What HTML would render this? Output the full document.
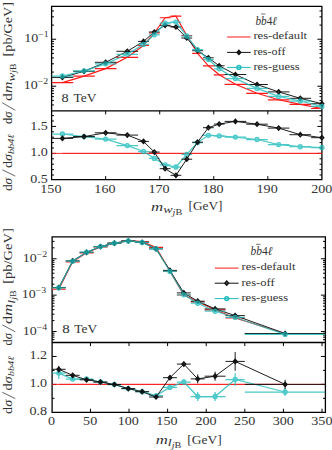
<!DOCTYPE html>
<html><head><meta charset="utf-8"><style>
html,body{margin:0;padding:0;background:#fff;}
body{width:332px;height:450px;overflow:hidden;}
svg{display:block;}
</style></head><body>
<svg width="332" height="450" viewBox="0 0 332 450"><rect width="332" height="450" fill="#fff"/><defs><clipPath id="tm"><rect x="51.6" y="6.4" width="270.30" height="104.40"/></clipPath><clipPath id="bm"><rect x="52.1" y="236.85" width="273.30" height="105.65"/></clipPath><clipPath id="tr"><rect x="51.6" y="110.8" width="270.30" height="68.90"/></clipPath><clipPath id="br"><rect x="52.1" y="342.5" width="273.30" height="69.80"/></clipPath></defs><path d="M51.6,6.4H321.9V179.7H51.6ZM51.6,110.8H321.9" fill="none" stroke="#000" stroke-width="1.3"/><path d="M105.66,110.8v3.6M105.66,179.7v-3.6M159.72,110.8v3.6M159.72,179.7v-3.6M213.78,110.8v3.6M213.78,179.7v-3.6M267.84,110.8v3.6M267.84,179.7v-3.6M51.6,86.23h4.5M321.9,86.23h-4.5M51.6,39.24h4.5M321.9,39.24h-4.5M51.6,153.40h4.5M321.9,153.40h-4.5M51.6,126.41h4.5M321.9,126.41h-4.5M51.6,104.93h2.4M321.9,104.93h-2.4M51.6,100.38h2.4M321.9,100.38h-2.4M51.6,96.66h2.4M321.9,96.66h-2.4M51.6,93.51h2.4M321.9,93.51h-2.4M51.6,90.78h2.4M321.9,90.78h-2.4M51.6,88.38h2.4M321.9,88.38h-2.4M51.6,72.09h2.4M321.9,72.09h-2.4M51.6,63.81h2.4M321.9,63.81h-2.4M51.6,57.94h2.4M321.9,57.94h-2.4M51.6,53.39h2.4M321.9,53.39h-2.4M51.6,49.67h2.4M321.9,49.67h-2.4M51.6,46.52h2.4M321.9,46.52h-2.4M51.6,43.80h2.4M321.9,43.80h-2.4M51.6,41.39h2.4M321.9,41.39h-2.4M51.6,25.10h2.4M321.9,25.10h-2.4M51.6,16.82h2.4M321.9,16.82h-2.4M51.6,10.95h2.4M321.9,10.95h-2.4M51.6,175.00h2.4M321.9,175.00h-2.4M51.6,169.60h2.4M321.9,169.60h-2.4M51.6,164.20h2.4M321.9,164.20h-2.4M51.6,158.80h2.4M321.9,158.80h-2.4M51.6,148.00h2.4M321.9,148.00h-2.4M51.6,142.60h2.4M321.9,142.60h-2.4M51.6,137.20h2.4M321.9,137.20h-2.4M51.6,131.80h2.4M321.9,131.80h-2.4M51.6,121.01h2.4M321.9,121.01h-2.4M51.6,115.61h2.4M321.9,115.61h-2.4" stroke="#000" stroke-width="1" fill="none"/><path d="M52.1,236.85H325.4V412.3H52.1ZM52.1,342.5H325.4" fill="none" stroke="#000" stroke-width="1.3"/><path d="M90.44,342.5v3.6M90.44,412.3v-3.6M129.03,342.5v3.6M129.03,412.3v-3.6M167.62,342.5v3.6M167.62,412.3v-3.6M206.22,342.5v3.6M206.22,412.3v-3.6M244.81,342.5v3.6M244.81,412.3v-3.6M283.41,342.5v3.6M283.41,412.3v-3.6M322.00,342.5v3.6M322.00,412.3v-3.6M52.1,331.54h4.5M325.4,331.54h-4.5M52.1,295.15h4.5M325.4,295.15h-4.5M52.1,258.76h4.5M325.4,258.76h-4.5M52.1,384.38h4.5M325.4,384.38h-4.5M52.1,356.46h4.5M325.4,356.46h-4.5M52.1,339.62h2.4M325.4,339.62h-2.4M52.1,337.18h2.4M325.4,337.18h-2.4M52.1,335.07h2.4M325.4,335.07h-2.4M52.1,333.21h2.4M325.4,333.21h-2.4M52.1,320.59h2.4M325.4,320.59h-2.4M52.1,314.18h2.4M325.4,314.18h-2.4M52.1,309.63h2.4M325.4,309.63h-2.4M52.1,306.11h2.4M325.4,306.11h-2.4M52.1,303.23h2.4M325.4,303.23h-2.4M52.1,300.79h2.4M325.4,300.79h-2.4M52.1,298.68h2.4M325.4,298.68h-2.4M52.1,296.82h2.4M325.4,296.82h-2.4M52.1,284.20h2.4M325.4,284.20h-2.4M52.1,277.79h2.4M325.4,277.79h-2.4M52.1,273.24h2.4M325.4,273.24h-2.4M52.1,269.72h2.4M325.4,269.72h-2.4M52.1,266.83h2.4M325.4,266.83h-2.4M52.1,264.40h2.4M325.4,264.40h-2.4M52.1,262.29h2.4M325.4,262.29h-2.4M52.1,260.43h2.4M325.4,260.43h-2.4M52.1,247.81h2.4M325.4,247.81h-2.4M52.1,241.40h2.4M325.4,241.40h-2.4M52.1,398.34h2.4M325.4,398.34h-2.4M52.1,370.42h2.4M325.4,370.42h-2.4" stroke="#000" stroke-width="1" fill="none"/><g><g clip-path="url(#tm)"><polyline points="62.41,82.60 84.04,76.10 105.66,68.60 127.28,57.30 143.50,45.50 154.31,33.00 165.13,17.70 175.94,16.10 186.75,35.50 197.56,53.30 208.37,65.80 219.19,74.80 235.40,84.30 257.03,93.30 278.65,99.80 300.28,104.40 321.90,108.50" fill="none" stroke="#ff1a1a" stroke-width="1.15"/><path d="M51.60,82.60H73.22M73.22,76.10H94.85M94.85,68.60H116.47M116.47,57.30H138.10M138.10,45.50H148.91M148.91,33.00H159.72M159.72,17.70H170.53M170.53,16.10H181.34M181.34,35.50H192.16M192.16,53.30H202.97M202.97,65.80H213.78M213.78,74.80H224.59M224.59,84.30H246.22M246.22,93.30H267.84M267.84,99.80H289.46M289.46,104.40H311.09M311.09,108.50H332.71" stroke="#ff1a1a" stroke-width="1.15" fill="none"/></g></g><g><g clip-path="url(#tm)"><polyline points="62.41,77.40 84.04,71.30 105.66,62.30 127.28,51.30 143.50,41.40 154.31,32.00 165.13,25.30 175.94,27.00 186.75,38.00 197.56,50.70 208.37,57.80 219.19,65.80 235.40,74.50 257.03,84.50 278.65,91.90 300.28,98.30 321.90,103.70" fill="none" stroke="#111" stroke-width="0.95"/><path d="M51.60,77.40H73.22M73.22,71.30H94.85M94.85,62.30H116.47M116.47,51.30H138.10M138.10,41.40H148.91M148.91,32.00H159.72M159.72,25.30H170.53M170.53,27.00H181.34M181.34,38.00H192.16M192.16,50.70H202.97M202.97,57.80H213.78M213.78,65.80H224.59M224.59,74.50H246.22M246.22,84.50H267.84M267.84,91.90H289.46M289.46,98.30H311.09M311.09,103.70H332.71" stroke="#111" stroke-width="0.95" fill="none"/></g><path d="M62.41,75.25L64.35,77.40L62.41,79.55L60.48,77.40Z" fill="#111" fill-opacity="0.35" stroke="#111" stroke-width="1.3"/><path d="M84.04,69.15L85.97,71.30L84.04,73.45L82.10,71.30Z" fill="#111" fill-opacity="0.35" stroke="#111" stroke-width="1.3"/><path d="M105.66,60.15L107.59,62.30L105.66,64.45L103.72,62.30Z" fill="#111" fill-opacity="0.35" stroke="#111" stroke-width="1.3"/><path d="M127.28,49.15L129.22,51.30L127.28,53.45L125.35,51.30Z" fill="#111" fill-opacity="0.35" stroke="#111" stroke-width="1.3"/><path d="M143.50,39.25L145.44,41.40L143.50,43.55L141.57,41.40Z" fill="#111" fill-opacity="0.35" stroke="#111" stroke-width="1.3"/><path d="M154.31,29.85L156.25,32.00L154.31,34.15L152.38,32.00Z" fill="#111" fill-opacity="0.35" stroke="#111" stroke-width="1.3"/><path d="M165.13,23.15L167.06,25.30L165.13,27.45L163.19,25.30Z" fill="#111" fill-opacity="0.35" stroke="#111" stroke-width="1.3"/><path d="M175.94,24.85L177.87,27.00L175.94,29.15L174.00,27.00Z" fill="#111" fill-opacity="0.35" stroke="#111" stroke-width="1.3"/><path d="M186.75,35.85L188.68,38.00L186.75,40.15L184.81,38.00Z" fill="#111" fill-opacity="0.35" stroke="#111" stroke-width="1.3"/><path d="M197.56,48.55L199.50,50.70L197.56,52.85L195.63,50.70Z" fill="#111" fill-opacity="0.35" stroke="#111" stroke-width="1.3"/><path d="M208.37,55.65L210.31,57.80L208.37,59.95L206.44,57.80Z" fill="#111" fill-opacity="0.35" stroke="#111" stroke-width="1.3"/><path d="M219.19,63.65L221.12,65.80L219.19,67.95L217.25,65.80Z" fill="#111" fill-opacity="0.35" stroke="#111" stroke-width="1.3"/><path d="M235.40,72.35L237.34,74.50L235.40,76.65L233.47,74.50Z" fill="#111" fill-opacity="0.35" stroke="#111" stroke-width="1.3"/><path d="M257.03,82.35L258.96,84.50L257.03,86.65L255.09,84.50Z" fill="#111" fill-opacity="0.35" stroke="#111" stroke-width="1.3"/><path d="M278.65,89.75L280.59,91.90L278.65,94.05L276.72,91.90Z" fill="#111" fill-opacity="0.35" stroke="#111" stroke-width="1.3"/><path d="M300.28,96.15L302.21,98.30L300.28,100.45L298.34,98.30Z" fill="#111" fill-opacity="0.35" stroke="#111" stroke-width="1.3"/><path d="M321.90,101.55L323.83,103.70L321.90,105.85L319.96,103.70Z" fill="#111" fill-opacity="0.35" stroke="#111" stroke-width="1.3"/></g><g opacity="0.8"><g clip-path="url(#tm)"><polyline points="62.41,76.00 84.04,70.80 105.66,63.80 127.28,54.30 143.50,44.40 154.31,34.80 165.13,23.20 175.94,22.10 186.75,36.00 197.56,49.70 208.37,59.50 219.19,68.80 235.40,78.60 257.03,88.40 278.65,96.40 300.28,101.00 321.90,106.40" fill="none" stroke="#1fbcbc" stroke-width="1.25"/><path d="M51.60,76.00H73.22M73.22,70.80H94.85M94.85,63.80H116.47M116.47,54.30H138.10M138.10,44.40H148.91M148.91,34.80H159.72M159.72,23.20H170.53M170.53,22.10H181.34M181.34,36.00H192.16M192.16,49.70H202.97M202.97,59.50H213.78M213.78,68.80H224.59M224.59,78.60H246.22M246.22,88.40H267.84M267.84,96.40H289.46M289.46,101.00H311.09M311.09,106.40H332.71" stroke="#1fbcbc" stroke-width="1.25" fill="none"/></g><circle cx="62.41" cy="76.00" r="2.0" fill="#1fbcbc" fill-opacity="0.45" stroke="#1fbcbc" stroke-width="1.3"/><circle cx="84.04" cy="70.80" r="2.0" fill="#1fbcbc" fill-opacity="0.45" stroke="#1fbcbc" stroke-width="1.3"/><circle cx="105.66" cy="63.80" r="2.0" fill="#1fbcbc" fill-opacity="0.45" stroke="#1fbcbc" stroke-width="1.3"/><circle cx="127.28" cy="54.30" r="2.0" fill="#1fbcbc" fill-opacity="0.45" stroke="#1fbcbc" stroke-width="1.3"/><circle cx="143.50" cy="44.40" r="2.0" fill="#1fbcbc" fill-opacity="0.45" stroke="#1fbcbc" stroke-width="1.3"/><circle cx="154.31" cy="34.80" r="2.0" fill="#1fbcbc" fill-opacity="0.45" stroke="#1fbcbc" stroke-width="1.3"/><circle cx="165.13" cy="23.20" r="2.0" fill="#1fbcbc" fill-opacity="0.45" stroke="#1fbcbc" stroke-width="1.3"/><circle cx="175.94" cy="22.10" r="2.0" fill="#1fbcbc" fill-opacity="0.45" stroke="#1fbcbc" stroke-width="1.3"/><circle cx="186.75" cy="36.00" r="2.0" fill="#1fbcbc" fill-opacity="0.45" stroke="#1fbcbc" stroke-width="1.3"/><circle cx="197.56" cy="49.70" r="2.0" fill="#1fbcbc" fill-opacity="0.45" stroke="#1fbcbc" stroke-width="1.3"/><circle cx="208.37" cy="59.50" r="2.0" fill="#1fbcbc" fill-opacity="0.45" stroke="#1fbcbc" stroke-width="1.3"/><circle cx="219.19" cy="68.80" r="2.0" fill="#1fbcbc" fill-opacity="0.45" stroke="#1fbcbc" stroke-width="1.3"/><circle cx="235.40" cy="78.60" r="2.0" fill="#1fbcbc" fill-opacity="0.45" stroke="#1fbcbc" stroke-width="1.3"/><circle cx="257.03" cy="88.40" r="2.0" fill="#1fbcbc" fill-opacity="0.45" stroke="#1fbcbc" stroke-width="1.3"/><circle cx="278.65" cy="96.40" r="2.0" fill="#1fbcbc" fill-opacity="0.45" stroke="#1fbcbc" stroke-width="1.3"/><circle cx="300.28" cy="101.00" r="2.0" fill="#1fbcbc" fill-opacity="0.45" stroke="#1fbcbc" stroke-width="1.3"/><circle cx="321.90" cy="106.40" r="2.0" fill="#1fbcbc" fill-opacity="0.45" stroke="#1fbcbc" stroke-width="1.3"/></g><g><g clip-path="url(#tr)"><polyline points="62.41,153.40 84.04,153.40 105.66,153.40 127.28,153.40 143.50,153.40 154.31,153.40 165.13,153.40 175.94,153.40 186.75,153.40 197.56,153.40 208.37,153.40 219.19,153.40 235.40,153.40 257.03,153.40 278.65,153.40 300.28,153.40 321.90,153.40" fill="none" stroke="#ff1a1a" stroke-width="0.9"/><path d="M51.60,153.40H73.22M73.22,153.40H94.85M94.85,153.40H116.47M116.47,153.40H138.10M138.10,153.40H148.91M148.91,153.40H159.72M159.72,153.40H170.53M170.53,153.40H181.34M181.34,153.40H192.16M192.16,153.40H202.97M202.97,153.40H213.78M213.78,153.40H224.59M224.59,153.40H246.22M246.22,153.40H267.84M267.84,153.40H289.46M289.46,153.40H311.09M311.09,153.40H332.71" stroke="#ff1a1a" stroke-width="0.9" fill="none"/></g></g><g opacity="0.8"><g clip-path="url(#tr)"><polyline points="62.41,134.00 84.04,136.60 105.66,139.10 127.28,145.60 143.50,151.50 154.31,158.40 165.13,164.90 175.94,167.00 186.75,154.30 197.56,142.50 208.37,135.30 219.19,135.90 235.40,137.10 257.03,139.50 278.65,144.60 300.28,146.70 321.90,147.60" fill="none" stroke="#1fbcbc" stroke-width="1.25"/><path d="M51.60,134.00H73.22M73.22,136.60H94.85M94.85,139.10H116.47M116.47,145.60H138.10M138.10,151.50H148.91M148.91,158.40H159.72M159.72,164.90H170.53M170.53,167.00H181.34M181.34,154.30H192.16M192.16,142.50H202.97M202.97,135.30H213.78M213.78,135.90H224.59M224.59,137.10H246.22M246.22,139.50H267.84M267.84,144.60H289.46M289.46,146.70H311.09M311.09,147.60H332.71" stroke="#1fbcbc" stroke-width="1.25" fill="none"/></g><circle cx="62.41" cy="134.00" r="2.0" fill="#1fbcbc" fill-opacity="0.45" stroke="#1fbcbc" stroke-width="1.3"/><circle cx="84.04" cy="136.60" r="2.0" fill="#1fbcbc" fill-opacity="0.45" stroke="#1fbcbc" stroke-width="1.3"/><circle cx="105.66" cy="139.10" r="2.0" fill="#1fbcbc" fill-opacity="0.45" stroke="#1fbcbc" stroke-width="1.3"/><circle cx="127.28" cy="145.60" r="2.0" fill="#1fbcbc" fill-opacity="0.45" stroke="#1fbcbc" stroke-width="1.3"/><circle cx="143.50" cy="151.50" r="2.0" fill="#1fbcbc" fill-opacity="0.45" stroke="#1fbcbc" stroke-width="1.3"/><circle cx="154.31" cy="158.40" r="2.0" fill="#1fbcbc" fill-opacity="0.45" stroke="#1fbcbc" stroke-width="1.3"/><circle cx="165.13" cy="164.90" r="2.0" fill="#1fbcbc" fill-opacity="0.45" stroke="#1fbcbc" stroke-width="1.3"/><circle cx="175.94" cy="167.00" r="2.0" fill="#1fbcbc" fill-opacity="0.45" stroke="#1fbcbc" stroke-width="1.3"/><circle cx="186.75" cy="154.30" r="2.0" fill="#1fbcbc" fill-opacity="0.45" stroke="#1fbcbc" stroke-width="1.3"/><circle cx="197.56" cy="142.50" r="2.0" fill="#1fbcbc" fill-opacity="0.45" stroke="#1fbcbc" stroke-width="1.3"/><circle cx="208.37" cy="135.30" r="2.0" fill="#1fbcbc" fill-opacity="0.45" stroke="#1fbcbc" stroke-width="1.3"/><circle cx="219.19" cy="135.90" r="2.0" fill="#1fbcbc" fill-opacity="0.45" stroke="#1fbcbc" stroke-width="1.3"/><circle cx="235.40" cy="137.10" r="2.0" fill="#1fbcbc" fill-opacity="0.45" stroke="#1fbcbc" stroke-width="1.3"/><circle cx="257.03" cy="139.50" r="2.0" fill="#1fbcbc" fill-opacity="0.45" stroke="#1fbcbc" stroke-width="1.3"/><circle cx="278.65" cy="144.60" r="2.0" fill="#1fbcbc" fill-opacity="0.45" stroke="#1fbcbc" stroke-width="1.3"/><circle cx="300.28" cy="146.70" r="2.0" fill="#1fbcbc" fill-opacity="0.45" stroke="#1fbcbc" stroke-width="1.3"/><circle cx="321.90" cy="147.60" r="2.0" fill="#1fbcbc" fill-opacity="0.45" stroke="#1fbcbc" stroke-width="1.3"/></g><g><g clip-path="url(#tr)"><polyline points="62.41,138.40 84.04,136.60 105.66,132.80 127.28,135.10 143.50,141.40 154.31,152.10 165.13,168.70 175.94,175.30 186.75,159.20 197.56,142.20 208.37,127.70 219.19,124.10 235.40,121.40 257.03,124.20 278.65,128.10 300.28,134.70 321.90,137.70" fill="none" stroke="#111" stroke-width="0.95"/><path d="M51.60,138.40H73.22M73.22,136.60H94.85M94.85,132.80H116.47M116.47,135.10H138.10M138.10,141.40H148.91M148.91,152.10H159.72M159.72,168.70H170.53M170.53,175.30H181.34M181.34,159.20H192.16M192.16,142.20H202.97M202.97,127.70H213.78M213.78,124.10H224.59M224.59,121.40H246.22M246.22,124.20H267.84M267.84,128.10H289.46M289.46,134.70H311.09M311.09,137.70H332.71" stroke="#111" stroke-width="0.95" fill="none"/></g><path d="M62.41,136.25L64.35,138.40L62.41,140.55L60.48,138.40Z" fill="#111" fill-opacity="0.35" stroke="#111" stroke-width="1.3"/><path d="M84.04,134.45L85.97,136.60L84.04,138.75L82.10,136.60Z" fill="#111" fill-opacity="0.35" stroke="#111" stroke-width="1.3"/><path d="M105.66,130.65L107.59,132.80L105.66,134.95L103.72,132.80Z" fill="#111" fill-opacity="0.35" stroke="#111" stroke-width="1.3"/><path d="M127.28,132.95L129.22,135.10L127.28,137.25L125.35,135.10Z" fill="#111" fill-opacity="0.35" stroke="#111" stroke-width="1.3"/><path d="M143.50,139.25L145.44,141.40L143.50,143.55L141.57,141.40Z" fill="#111" fill-opacity="0.35" stroke="#111" stroke-width="1.3"/><path d="M154.31,149.95L156.25,152.10L154.31,154.25L152.38,152.10Z" fill="#111" fill-opacity="0.35" stroke="#111" stroke-width="1.3"/><path d="M165.13,166.55L167.06,168.70L165.13,170.85L163.19,168.70Z" fill="#111" fill-opacity="0.35" stroke="#111" stroke-width="1.3"/><path d="M175.94,173.15L177.87,175.30L175.94,177.45L174.00,175.30Z" fill="#111" fill-opacity="0.35" stroke="#111" stroke-width="1.3"/><path d="M186.75,157.05L188.68,159.20L186.75,161.35L184.81,159.20Z" fill="#111" fill-opacity="0.35" stroke="#111" stroke-width="1.3"/><path d="M197.56,140.05L199.50,142.20L197.56,144.35L195.63,142.20Z" fill="#111" fill-opacity="0.35" stroke="#111" stroke-width="1.3"/><path d="M208.37,125.55L210.31,127.70L208.37,129.85L206.44,127.70Z" fill="#111" fill-opacity="0.35" stroke="#111" stroke-width="1.3"/><path d="M219.19,121.95L221.12,124.10L219.19,126.25L217.25,124.10Z" fill="#111" fill-opacity="0.35" stroke="#111" stroke-width="1.3"/><path d="M235.40,119.25L237.34,121.40L235.40,123.55L233.47,121.40Z" fill="#111" fill-opacity="0.35" stroke="#111" stroke-width="1.3"/><path d="M257.03,122.05L258.96,124.20L257.03,126.35L255.09,124.20Z" fill="#111" fill-opacity="0.35" stroke="#111" stroke-width="1.3"/><path d="M278.65,125.95L280.59,128.10L278.65,130.25L276.72,128.10Z" fill="#111" fill-opacity="0.35" stroke="#111" stroke-width="1.3"/><path d="M300.28,132.55L302.21,134.70L300.28,136.85L298.34,134.70Z" fill="#111" fill-opacity="0.35" stroke="#111" stroke-width="1.3"/><path d="M321.90,135.55L323.83,137.70L321.90,139.85L319.96,137.70Z" fill="#111" fill-opacity="0.35" stroke="#111" stroke-width="1.3"/></g><g><g clip-path="url(#bm)"><polyline points="58.79,289.12 72.68,261.80 86.58,252.81 100.47,246.87 114.36,243.19 128.26,240.51 142.15,241.55 156.05,247.40 169.94,271.14 183.83,295.04 197.73,301.81 215.10,309.80 235.17,318.01 285.11,333.50" fill="none" stroke="#ff1a1a" stroke-width="1.15"/><path d="M51.84,289.12H65.73M65.73,261.80H79.63M79.63,252.81H93.52M93.52,246.87H107.42M107.42,243.19H121.31M121.31,240.51H135.21M135.21,241.55H149.10M149.10,247.40H162.99M162.99,271.14H176.89M176.89,295.04H190.78M190.78,301.81H204.68M204.68,309.80H225.52M225.52,318.01H244.81M244.81,333.50H325.40" stroke="#ff1a1a" stroke-width="1.15" fill="none"/></g></g><g><g clip-path="url(#bm)"><polyline points="58.79,287.50 72.68,260.80 86.58,252.30 100.47,246.60 114.36,243.20 128.26,241.00 142.15,242.40 156.05,248.90 169.94,270.40 183.83,292.90 197.73,301.20 215.10,308.90 235.17,315.60 285.11,333.50" fill="none" stroke="#111" stroke-width="0.95"/><path d="M51.84,287.50H65.73M65.73,260.80H79.63M79.63,252.30H93.52M93.52,246.60H107.42M107.42,243.20H121.31M121.31,241.00H135.21M135.21,242.40H149.10M149.10,248.90H162.99M162.99,270.40H176.89M176.89,292.90H190.78M190.78,301.20H204.68M204.68,308.90H225.52M225.52,315.60H244.81M244.81,333.50H325.40" stroke="#111" stroke-width="0.95" fill="none"/></g><path d="M58.79,285.35L60.72,287.50L58.79,289.65L56.85,287.50Z" fill="#111" fill-opacity="0.35" stroke="#111" stroke-width="1.3"/><path d="M72.68,258.65L74.62,260.80L72.68,262.95L70.75,260.80Z" fill="#111" fill-opacity="0.35" stroke="#111" stroke-width="1.3"/><path d="M86.58,250.15L88.51,252.30L86.58,254.45L84.64,252.30Z" fill="#111" fill-opacity="0.35" stroke="#111" stroke-width="1.3"/><path d="M100.47,244.45L102.40,246.60L100.47,248.75L98.53,246.60Z" fill="#111" fill-opacity="0.35" stroke="#111" stroke-width="1.3"/><path d="M114.36,241.05L116.30,243.20L114.36,245.35L112.43,243.20Z" fill="#111" fill-opacity="0.35" stroke="#111" stroke-width="1.3"/><path d="M128.26,238.85L130.19,241.00L128.26,243.15L126.32,241.00Z" fill="#111" fill-opacity="0.35" stroke="#111" stroke-width="1.3"/><path d="M142.15,240.25L144.09,242.40L142.15,244.55L140.22,242.40Z" fill="#111" fill-opacity="0.35" stroke="#111" stroke-width="1.3"/><path d="M156.05,246.75L157.98,248.90L156.05,251.05L154.11,248.90Z" fill="#111" fill-opacity="0.35" stroke="#111" stroke-width="1.3"/><path d="M169.94,268.25L171.88,270.40L169.94,272.55L168.01,270.40Z" fill="#111" fill-opacity="0.35" stroke="#111" stroke-width="1.3"/><path d="M183.83,290.75L185.77,292.90L183.83,295.05L181.90,292.90Z" fill="#111" fill-opacity="0.35" stroke="#111" stroke-width="1.3"/><path d="M197.73,299.05L199.66,301.20L197.73,303.35L195.79,301.20Z" fill="#111" fill-opacity="0.35" stroke="#111" stroke-width="1.3"/><path d="M215.10,306.75L217.03,308.90L215.10,311.05L213.16,308.90Z" fill="#111" fill-opacity="0.35" stroke="#111" stroke-width="1.3"/><path d="M235.17,313.45L237.10,315.60L235.17,317.75L233.23,315.60Z" fill="#111" fill-opacity="0.35" stroke="#111" stroke-width="1.3"/><path d="M285.11,331.35L287.04,333.50L285.11,335.65L283.17,333.50Z" fill="#111" fill-opacity="0.35" stroke="#111" stroke-width="1.3"/></g><g opacity="0.8"><g clip-path="url(#bm)"><polyline points="58.79,287.89 72.68,261.21 86.58,252.21 100.47,246.60 114.36,243.20 128.26,241.00 142.15,242.40 156.05,248.73 169.94,271.48 183.83,294.78 197.73,303.24 215.10,311.24 235.17,317.47 285.11,334.39" fill="none" stroke="#1fbcbc" stroke-width="1.25"/><path d="M51.84,287.89H65.73M65.73,261.21H79.63M79.63,252.21H93.52M93.52,246.60H107.42M107.42,243.20H121.31M121.31,241.00H135.21M135.21,242.40H149.10M149.10,248.73H162.99M162.99,271.48H176.89M176.89,294.78H190.78M190.78,303.24H204.68M204.68,311.24H225.52M225.52,317.47H244.81M244.81,334.39H325.40" stroke="#1fbcbc" stroke-width="1.25" fill="none"/></g><circle cx="58.79" cy="287.89" r="2.0" fill="#1fbcbc" fill-opacity="0.45" stroke="#1fbcbc" stroke-width="1.3"/><circle cx="72.68" cy="261.21" r="2.0" fill="#1fbcbc" fill-opacity="0.45" stroke="#1fbcbc" stroke-width="1.3"/><circle cx="86.58" cy="252.21" r="2.0" fill="#1fbcbc" fill-opacity="0.45" stroke="#1fbcbc" stroke-width="1.3"/><circle cx="100.47" cy="246.60" r="2.0" fill="#1fbcbc" fill-opacity="0.45" stroke="#1fbcbc" stroke-width="1.3"/><circle cx="114.36" cy="243.20" r="2.0" fill="#1fbcbc" fill-opacity="0.45" stroke="#1fbcbc" stroke-width="1.3"/><circle cx="128.26" cy="241.00" r="2.0" fill="#1fbcbc" fill-opacity="0.45" stroke="#1fbcbc" stroke-width="1.3"/><circle cx="142.15" cy="242.40" r="2.0" fill="#1fbcbc" fill-opacity="0.45" stroke="#1fbcbc" stroke-width="1.3"/><circle cx="156.05" cy="248.73" r="2.0" fill="#1fbcbc" fill-opacity="0.45" stroke="#1fbcbc" stroke-width="1.3"/><circle cx="169.94" cy="271.48" r="2.0" fill="#1fbcbc" fill-opacity="0.45" stroke="#1fbcbc" stroke-width="1.3"/><circle cx="183.83" cy="294.78" r="2.0" fill="#1fbcbc" fill-opacity="0.45" stroke="#1fbcbc" stroke-width="1.3"/><circle cx="197.73" cy="303.24" r="2.0" fill="#1fbcbc" fill-opacity="0.45" stroke="#1fbcbc" stroke-width="1.3"/><circle cx="215.10" cy="311.24" r="2.0" fill="#1fbcbc" fill-opacity="0.45" stroke="#1fbcbc" stroke-width="1.3"/><circle cx="235.17" cy="317.47" r="2.0" fill="#1fbcbc" fill-opacity="0.45" stroke="#1fbcbc" stroke-width="1.3"/><circle cx="285.11" cy="334.39" r="2.0" fill="#1fbcbc" fill-opacity="0.45" stroke="#1fbcbc" stroke-width="1.3"/></g><g><g clip-path="url(#br)"><polyline points="58.79,384.38 72.68,384.38 86.58,384.38 100.47,384.38 114.36,384.38 128.26,384.38 142.15,384.38 156.05,384.38 169.94,384.38 183.83,384.38 197.73,384.38 215.10,384.38 235.17,384.38 285.11,384.38" fill="none" stroke="#ff1a1a" stroke-width="0.9"/><path d="M51.84,384.38H65.73M65.73,384.38H79.63M79.63,384.38H93.52M93.52,384.38H107.42M107.42,384.38H121.31M121.31,384.38H135.21M135.21,384.38H149.10M149.10,384.38H162.99M162.99,384.38H176.89M176.89,384.38H190.78M190.78,384.38H204.68M204.68,384.38H225.52M225.52,384.38H244.81M244.81,384.38H325.40" stroke="#ff1a1a" stroke-width="0.9" fill="none"/></g></g><g opacity="0.8"><g clip-path="url(#br)"><polyline points="58.79,373.10 72.68,379.10 86.58,379.00 100.47,382.00 114.36,384.50 128.26,388.60 142.15,391.70 156.05,395.60 169.94,387.40 183.83,382.00 197.73,396.50 215.10,396.50 235.17,379.50 285.11,392.00" fill="none" stroke="#1fbcbc" stroke-width="1.25"/><path d="M51.84,373.10H65.73M58.79,367.10V379.10M65.73,379.10H79.63M72.68,377.60V380.60M79.63,379.00H93.52M86.58,378.00V380.00M93.52,382.00H107.42M100.47,381.00V383.00M107.42,384.50H121.31M114.36,383.50V385.50M121.31,388.60H135.21M128.26,387.60V389.60M135.21,391.70H149.10M142.15,390.50V392.90M149.10,395.60H162.99M156.05,394.10V397.10M162.99,387.40H176.89M169.94,385.40V389.40M176.89,382.00H190.78M183.83,379.50V384.50M190.78,396.50H204.68M197.73,392.00V401.00M204.68,396.50H225.52M215.10,392.00V401.00M225.52,379.50H244.81M235.17,373.20V385.80M244.81,392.00H325.40M285.11,388.10V395.90" stroke="#1fbcbc" stroke-width="1.25" fill="none"/></g><circle cx="58.79" cy="373.10" r="2.0" fill="#1fbcbc" fill-opacity="0.45" stroke="#1fbcbc" stroke-width="1.3"/><circle cx="72.68" cy="379.10" r="2.0" fill="#1fbcbc" fill-opacity="0.45" stroke="#1fbcbc" stroke-width="1.3"/><circle cx="86.58" cy="379.00" r="2.0" fill="#1fbcbc" fill-opacity="0.45" stroke="#1fbcbc" stroke-width="1.3"/><circle cx="100.47" cy="382.00" r="2.0" fill="#1fbcbc" fill-opacity="0.45" stroke="#1fbcbc" stroke-width="1.3"/><circle cx="114.36" cy="384.50" r="2.0" fill="#1fbcbc" fill-opacity="0.45" stroke="#1fbcbc" stroke-width="1.3"/><circle cx="128.26" cy="388.60" r="2.0" fill="#1fbcbc" fill-opacity="0.45" stroke="#1fbcbc" stroke-width="1.3"/><circle cx="142.15" cy="391.70" r="2.0" fill="#1fbcbc" fill-opacity="0.45" stroke="#1fbcbc" stroke-width="1.3"/><circle cx="156.05" cy="395.60" r="2.0" fill="#1fbcbc" fill-opacity="0.45" stroke="#1fbcbc" stroke-width="1.3"/><circle cx="169.94" cy="387.40" r="2.0" fill="#1fbcbc" fill-opacity="0.45" stroke="#1fbcbc" stroke-width="1.3"/><circle cx="183.83" cy="382.00" r="2.0" fill="#1fbcbc" fill-opacity="0.45" stroke="#1fbcbc" stroke-width="1.3"/><circle cx="197.73" cy="396.50" r="2.0" fill="#1fbcbc" fill-opacity="0.45" stroke="#1fbcbc" stroke-width="1.3"/><circle cx="215.10" cy="396.50" r="2.0" fill="#1fbcbc" fill-opacity="0.45" stroke="#1fbcbc" stroke-width="1.3"/><circle cx="235.17" cy="379.50" r="2.0" fill="#1fbcbc" fill-opacity="0.45" stroke="#1fbcbc" stroke-width="1.3"/><circle cx="285.11" cy="392.00" r="2.0" fill="#1fbcbc" fill-opacity="0.45" stroke="#1fbcbc" stroke-width="1.3"/></g><g><g clip-path="url(#br)"><polyline points="58.79,369.30 72.68,375.30 86.58,379.80 100.47,382.00 114.36,384.50 128.26,388.60 142.15,391.70 156.05,397.00 169.94,377.70 183.83,364.10 197.73,378.90 215.10,376.20 235.17,361.40 285.11,384.38" fill="none" stroke="#111" stroke-width="0.95"/><path d="M51.84,369.30H65.73M58.79,365.90V372.70M65.73,375.30H79.63M72.68,373.80V376.80M79.63,379.80H93.52M86.58,378.80V380.80M93.52,382.00H107.42M100.47,381.00V383.00M107.42,384.50H121.31M114.36,383.50V385.50M121.31,388.60H135.21M128.26,387.60V389.60M135.21,391.70H149.10M142.15,390.50V392.90M149.10,397.00H162.99M156.05,395.50V398.50M162.99,377.70H176.89M169.94,375.70V379.70M176.89,364.10H190.78M183.83,361.60V366.60M190.78,378.90H204.68M197.73,374.40V383.40M204.68,376.20H225.52M215.10,371.70V380.70M225.52,361.40H244.81M235.17,352.00V370.80M244.81,384.38H325.40M285.11,379.78V388.98" stroke="#111" stroke-width="0.95" fill="none"/></g><path d="M58.79,367.15L60.72,369.30L58.79,371.45L56.85,369.30Z" fill="#111" fill-opacity="0.35" stroke="#111" stroke-width="1.3"/><path d="M72.68,373.15L74.62,375.30L72.68,377.45L70.75,375.30Z" fill="#111" fill-opacity="0.35" stroke="#111" stroke-width="1.3"/><path d="M86.58,377.65L88.51,379.80L86.58,381.95L84.64,379.80Z" fill="#111" fill-opacity="0.35" stroke="#111" stroke-width="1.3"/><path d="M100.47,379.85L102.40,382.00L100.47,384.15L98.53,382.00Z" fill="#111" fill-opacity="0.35" stroke="#111" stroke-width="1.3"/><path d="M114.36,382.35L116.30,384.50L114.36,386.65L112.43,384.50Z" fill="#111" fill-opacity="0.35" stroke="#111" stroke-width="1.3"/><path d="M128.26,386.45L130.19,388.60L128.26,390.75L126.32,388.60Z" fill="#111" fill-opacity="0.35" stroke="#111" stroke-width="1.3"/><path d="M142.15,389.55L144.09,391.70L142.15,393.85L140.22,391.70Z" fill="#111" fill-opacity="0.35" stroke="#111" stroke-width="1.3"/><path d="M156.05,394.85L157.98,397.00L156.05,399.15L154.11,397.00Z" fill="#111" fill-opacity="0.35" stroke="#111" stroke-width="1.3"/><path d="M169.94,375.55L171.88,377.70L169.94,379.85L168.01,377.70Z" fill="#111" fill-opacity="0.35" stroke="#111" stroke-width="1.3"/><path d="M183.83,361.95L185.77,364.10L183.83,366.25L181.90,364.10Z" fill="#111" fill-opacity="0.35" stroke="#111" stroke-width="1.3"/><path d="M197.73,376.75L199.66,378.90L197.73,381.05L195.79,378.90Z" fill="#111" fill-opacity="0.35" stroke="#111" stroke-width="1.3"/><path d="M215.10,374.05L217.03,376.20L215.10,378.35L213.16,376.20Z" fill="#111" fill-opacity="0.35" stroke="#111" stroke-width="1.3"/><path d="M235.17,359.25L237.10,361.40L235.17,363.55L233.23,361.40Z" fill="#111" fill-opacity="0.35" stroke="#111" stroke-width="1.3"/><path d="M285.11,382.23L287.04,384.38L285.11,386.53L283.17,384.38Z" fill="#111" fill-opacity="0.35" stroke="#111" stroke-width="1.3"/></g><text transform="translate(40.30,192.60) scale(1.1300,1.0000)" x="0" y="0" font-family="'Liberation Serif', serif" font-size="12.5" fill="#333">150</text><text transform="translate(94.36,192.60) scale(1.1300,1.0000)" x="0" y="0" font-family="'Liberation Serif', serif" font-size="12.5" fill="#333">160</text><text transform="translate(148.42,192.60) scale(1.1300,1.0000)" x="0" y="0" font-family="'Liberation Serif', serif" font-size="12.5" fill="#333">170</text><text transform="translate(202.48,192.60) scale(1.1300,1.0000)" x="0" y="0" font-family="'Liberation Serif', serif" font-size="12.5" fill="#333">180</text><text transform="translate(256.54,192.60) scale(1.1300,1.0000)" x="0" y="0" font-family="'Liberation Serif', serif" font-size="12.5" fill="#333">190</text><text transform="translate(311.16,192.60) scale(1.1300,1.0000)" x="0" y="0" font-family="'Liberation Serif', serif" font-size="12.5" fill="#333">200</text><text transform="translate(47.89,425.10) scale(1.1300,1.0000)" x="0" y="0" font-family="'Liberation Serif', serif" font-size="12.5" fill="#333">0</text><text transform="translate(83.09,425.10) scale(1.1300,1.0000)" x="0" y="0" font-family="'Liberation Serif', serif" font-size="12.5" fill="#333">50</text><text transform="translate(117.73,425.10) scale(1.1300,1.0000)" x="0" y="0" font-family="'Liberation Serif', serif" font-size="12.5" fill="#333">100</text><text transform="translate(156.32,425.10) scale(1.1300,1.0000)" x="0" y="0" font-family="'Liberation Serif', serif" font-size="12.5" fill="#333">150</text><text transform="translate(195.49,425.10) scale(1.1300,1.0000)" x="0" y="0" font-family="'Liberation Serif', serif" font-size="12.5" fill="#333">200</text><text transform="translate(234.08,425.10) scale(1.1300,1.0000)" x="0" y="0" font-family="'Liberation Serif', serif" font-size="12.5" fill="#333">250</text><text transform="translate(272.68,425.10) scale(1.1300,1.0000)" x="0" y="0" font-family="'Liberation Serif', serif" font-size="12.5" fill="#333">300</text><text transform="translate(311.27,425.10) scale(1.1300,1.0000)" x="0" y="0" font-family="'Liberation Serif', serif" font-size="12.5" fill="#333">350</text><text transform="translate(24.20,42.00) scale(1.1200,1.0000)" x="0" y="0" font-family="'Liberation Serif', serif" font-size="12.5" fill="#333">10<tspan font-size="8.8" dy="-5">−1</tspan></text><text transform="translate(23.68,88.80) scale(1.1200,1.0000)" x="0" y="0" font-family="'Liberation Serif', serif" font-size="12.5" fill="#333">10<tspan font-size="8.8" dy="-5">−2</tspan></text><text transform="translate(22.78,261.80) scale(1.1200,1.0000)" x="0" y="0" font-family="'Liberation Serif', serif" font-size="12.5" fill="#333">10<tspan font-size="8.8" dy="-5">−2</tspan></text><text transform="translate(21.66,297.80) scale(1.1200,1.0000)" x="0" y="0" font-family="'Liberation Serif', serif" font-size="12.5" fill="#333">10<tspan font-size="8.8" dy="-5">−3</tspan></text><text transform="translate(22.78,334.50) scale(1.1200,1.0000)" x="0" y="0" font-family="'Liberation Serif', serif" font-size="12.5" fill="#333">10<tspan font-size="8.8" dy="-5">−4</tspan></text><text transform="translate(30.25,129.80) scale(1.1300,1.0000)" x="0" y="0" font-family="'Liberation Serif', serif" font-size="12.5" fill="#333">1.5</text><text transform="translate(30.25,155.90) scale(1.1300,1.0000)" x="0" y="0" font-family="'Liberation Serif', serif" font-size="12.5" fill="#333">1.0</text><text transform="translate(30.25,182.70) scale(1.1300,1.0000)" x="0" y="0" font-family="'Liberation Serif', serif" font-size="12.5" fill="#333">0.5</text><text transform="translate(29.45,358.90) scale(1.1300,1.0000)" x="0" y="0" font-family="'Liberation Serif', serif" font-size="12.5" fill="#333">1.2</text><text transform="translate(29.45,387.20) scale(1.1300,1.0000)" x="0" y="0" font-family="'Liberation Serif', serif" font-size="12.5" fill="#333">1.0</text><text transform="translate(29.45,415.20) scale(1.1300,1.0000)" x="0" y="0" font-family="'Liberation Serif', serif" font-size="12.5" fill="#333">0.8</text><text transform="translate(61.56,101.80) scale(1.1400,1.0250)" x="0" y="0" font-family="'Liberation Serif', serif" font-size="12.5" fill="#333">8</text><text transform="translate(73.50,101.80) scale(1.0762,1.0500)" x="0" y="0" font-family="'Liberation Serif', serif" font-size="12.5" fill="#333">TeV</text><text transform="translate(62.20,333.00) scale(1.2000,1.0500)" x="0" y="0" font-family="'Liberation Serif', serif" font-size="12.5" fill="#333">8</text><text transform="translate(74.20,333.00) scale(1.0714,1.0750)" x="0" y="0" font-family="'Liberation Serif', serif" font-size="12.5" fill="#333">TeV</text><text transform="translate(151.05,210.50) scale(1.3455,1.0000)" x="0" y="0" font-family="'Liberation Serif', serif" font-size="12.5" fill="#333"><tspan font-style="italic">m</tspan><tspan font-size="10.5" dy="2.6" font-style="italic">w</tspan><tspan font-size="7.6" dy="1.5" font-style="italic">j</tspan><tspan font-size="7.6">B</tspan></text><text transform="translate(188.53,210.20) scale(1.0667,1.0000)" x="0" y="0" font-family="'Liberation Serif', serif" font-size="12.5" fill="#333">[GeV]</text><text transform="translate(155.66,443.50) scale(1.3389,1.0000)" x="0" y="0" font-family="'Liberation Serif', serif" font-size="12.5" fill="#333"><tspan font-style="italic">m</tspan><tspan font-size="10.5" dy="2.6" font-style="italic">l</tspan><tspan font-size="7.6" dy="1.5" font-style="italic">j</tspan><tspan font-size="7.6">B</tspan></text><text transform="translate(187.32,443.70) scale(1.0767,1.0000)" x="0" y="0" font-family="'Liberation Serif', serif" font-size="12.5" fill="#333">[GeV]</text><text transform="translate(11.90,124.00) rotate(-90) scale(1.0000,1.0000)" x="0" y="0" font-family="'Liberation Serif', serif" font-size="12.5" fill="#333">d<tspan font-style="italic">σ</tspan></text><path d="M2.30,102.80L15.30,110.30" stroke="#333" stroke-width="0.75"/><text transform="translate(11.90,101.00) rotate(-90) scale(1.2690,1.0000)" x="0" y="0" font-family="'Liberation Serif', serif" font-size="12.5" fill="#333">d<tspan font-style="italic">m</tspan><tspan font-size="10.5" dy="2.6" font-style="italic">w</tspan><tspan font-size="7.6" dy="1.5" font-style="italic">j</tspan><tspan font-size="7.6">B</tspan></text><text transform="translate(11.90,56.44) rotate(-90) scale(1.1391,1.0000)" x="0" y="0" font-family="'Liberation Serif', serif" font-size="12.5" fill="#333">[pb/GeV]</text><text transform="translate(11.90,345.40) rotate(-90) scale(0.9917,1.0000)" x="0" y="0" font-family="'Liberation Serif', serif" font-size="12.5" fill="#333">d<tspan font-style="italic">σ</tspan></text><path d="M2.30,324.90L15.30,331.80" stroke="#333" stroke-width="0.75"/><text transform="translate(11.90,323.90) rotate(-90) scale(1.3240,1.0000)" x="0" y="0" font-family="'Liberation Serif', serif" font-size="12.5" fill="#333">d<tspan font-style="italic">m</tspan><tspan font-size="10.5" dy="2.6" font-style="italic">l</tspan><tspan font-size="7.6" dy="1.5" font-style="italic">j</tspan><tspan font-size="7.6">B</tspan></text><text transform="translate(11.90,283.76) rotate(-90) scale(1.1609,1.0000)" x="0" y="0" font-family="'Liberation Serif', serif" font-size="12.5" fill="#333">[pb/GeV]</text><text transform="translate(11.90,191.10) rotate(-90) scale(1.0667,1.0000)" x="0" y="0" font-family="'Liberation Serif', serif" font-size="12.5" fill="#333">d<tspan font-style="italic">σ</tspan></text><path d="M2.30,169.80L15.30,176.10" stroke="#333" stroke-width="0.75"/><text transform="translate(11.90,168.10) rotate(-90) scale(1.1321,1.0000)" x="0" y="0" font-family="'Liberation Serif', serif" font-size="12.5" fill="#333">d<tspan font-style="italic">σ</tspan><tspan font-size="9" dy="2.4" font-style="italic">bb4ℓ</tspan></text><text transform="translate(11.90,413.90) rotate(-90) scale(1.1333,1.0000)" x="0" y="0" font-family="'Liberation Serif', serif" font-size="12.5" fill="#333">d<tspan font-style="italic">σ</tspan></text><path d="M2.30,392.30L15.30,398.60" stroke="#333" stroke-width="0.75"/><text transform="translate(11.90,390.60) rotate(-90) scale(1.1536,1.0000)" x="0" y="0" font-family="'Liberation Serif', serif" font-size="12.5" fill="#333">d<tspan font-style="italic">σ</tspan><tspan font-size="9" dy="2.4" font-style="italic">bb4ℓ</tspan></text><path d="M227.10,37.00H250.70" stroke="#ff1a1a" stroke-width="1"/><path d="M227.10,52.40H250.70" stroke="#111" stroke-width="1"/><path d="M238.90,50.25L240.83,52.40L238.90,54.55L236.96,52.40Z" fill="#111" fill-opacity="0.35" stroke="#111" stroke-width="1.3"/><path d="M227.10,67.40H250.70" stroke="#1fbcbc" stroke-width="1"/><circle cx="238.90" cy="67.40" r="2.0" fill="#1fbcbc" fill-opacity="0.45" stroke="#1fbcbc" stroke-width="1.3"/><text transform="translate(255.40,24.90) scale(0.9000,0.9889)" x="0" y="0" font-family="'Liberation Serif', serif" font-size="12.5" font-style="italic" fill="#333">bb<tspan font-style="normal">4</tspan>ℓ</text><path d="M261.10,14.00H265.40" stroke="#333" stroke-width="0.7"/><text transform="translate(253.44,39.35) scale(1.2561,1.0000)" x="0" y="0" font-family="'Liberation Serif', serif" font-size="10" fill="#333">res-default</text><text transform="translate(253.49,54.75) scale(1.2080,1.0000)" x="0" y="0" font-family="'Liberation Serif', serif" font-size="10" fill="#333">res-off</text><text transform="translate(253.46,69.75) scale(1.2417,1.0000)" x="0" y="0" font-family="'Liberation Serif', serif" font-size="10" fill="#333">res-guess</text><path d="M214.80,268.10H238.60" stroke="#ff1a1a" stroke-width="1"/><path d="M214.80,283.20H238.60" stroke="#111" stroke-width="1"/><path d="M226.70,281.05L228.63,283.20L226.70,285.35L224.76,283.20Z" fill="#111" fill-opacity="0.35" stroke="#111" stroke-width="1.3"/><path d="M214.80,298.60H238.60" stroke="#1fbcbc" stroke-width="1"/><circle cx="226.70" cy="298.60" r="2.0" fill="#1fbcbc" fill-opacity="0.45" stroke="#1fbcbc" stroke-width="1.3"/><text transform="translate(250.38,255.40) scale(0.9217,0.9667)" x="0" y="0" font-family="'Liberation Serif', serif" font-size="12.5" font-style="italic" fill="#333">bb<tspan font-style="normal">4</tspan>ℓ</text><path d="M256.10,244.30H260.50" stroke="#333" stroke-width="0.7"/><text transform="translate(241.43,270.45) scale(1.2659,1.0000)" x="0" y="0" font-family="'Liberation Serif', serif" font-size="10" fill="#333">res-default</text><text transform="translate(241.45,285.55) scale(1.2520,1.0000)" x="0" y="0" font-family="'Liberation Serif', serif" font-size="10" fill="#333">res-off</text><text transform="translate(241.44,300.95) scale(1.2556,1.0000)" x="0" y="0" font-family="'Liberation Serif', serif" font-size="10" fill="#333">res-guess</text></svg>
</body></html>
